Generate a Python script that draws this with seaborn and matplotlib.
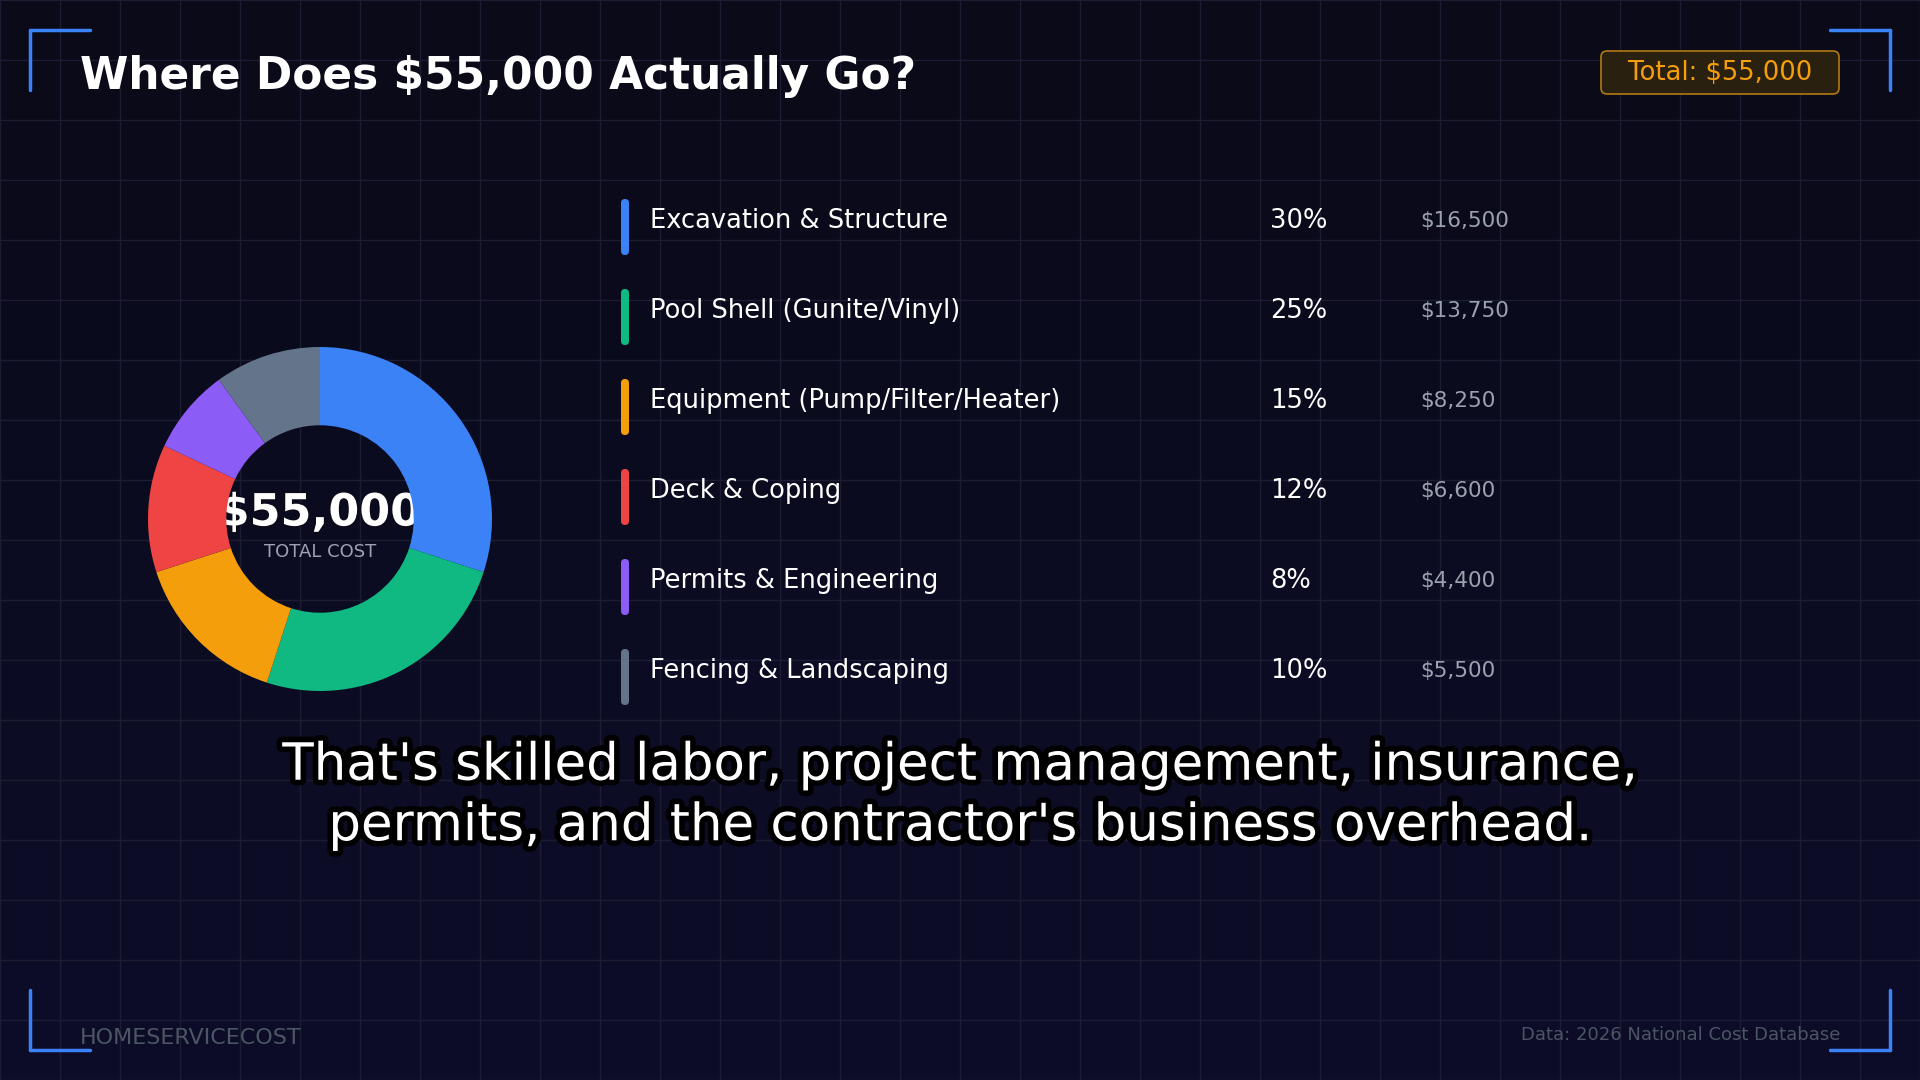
import matplotlib
matplotlib.use("Agg")
import matplotlib.pyplot as plt
import matplotlib.patheffects as pe
from matplotlib.patches import FancyBboxPatch
from matplotlib.colors import LinearSegmentedColormap
import numpy as np
import seaborn as sns

sns.set_theme(style="dark")
plt.rcParams['font.family'] = ['DejaVu Sans']

categories = ["Excavation & Structure", "Pool Shell (Gunite/Vinyl)", "Equipment (Pump/Filter/Heater)",
              "Deck & Coping", "Permits & Engineering", "Fencing & Landscaping"]
percents = [30, 25, 15, 12, 8, 10]
amounts = ["$16,500", "$13,750", "$8,250", "$6,600", "$4,400", "$5,500"]
colors = ["#3b82f6", "#10b981", "#f59e0b", "#ef4444", "#8b5cf6", "#64748b"]

W, H = 1920, 1080
fig = plt.figure(figsize=(19.2, 10.8), dpi=100)
bg = fig.add_axes([0, 0, 1, 1])
bg.set_xlim(0, W); bg.set_ylim(H, 0); bg.axis("off")
grad = np.linspace(0, 1, 256).reshape(-1, 1)
cmap = LinearSegmentedColormap.from_list("bg", ["#0a0a18", "#0d0d2a"])
bg.imshow(grad, extent=[0, W, H, 0], cmap=cmap, aspect="auto", zorder=0)
for x in range(0, W + 1, 60):
    bg.plot([x, x], [0, H], color="#1c1c33", lw=1, zorder=1)
for y in range(0, H + 1, 60):
    bg.plot([0, W], [y, y], color="#1c1c33", lw=1, zorder=1)

bc = "#3b82f6"; L = 60
for (cx0, cy0, dx, dy) in [(30, 30, 1, 1), (1890, 30, -1, 1), (30, 1050, 1, -1), (1890, 1050, -1, -1)]:
    bg.plot([cx0, cx0 + dx * L], [cy0, cy0], color=bc, lw=2.5, zorder=3)
    bg.plot([cx0, cx0], [cy0, cy0 + dy * L], color=bc, lw=2.5, zorder=3)

bg.text(80, 76, "Where Does $55,000 Actually Go?", color="white", fontsize=31.6, fontweight="bold",
        va="center", ha="left", zorder=4)
bg.add_patch(FancyBboxPatch((1601, 51), 238, 43, boxstyle="round,pad=0,rounding_size=6",
                            fc="#2a2010", ec="#b07a12", lw=1.2, zorder=3))
bg.text(1720, 73, "Total: $55,000", color="#f59e0b", fontsize=18.6, ha="center", va="center", zorder=4)

rows_y = [221, 311, 401, 491, 581, 671]
for y, cat, p, a, c in zip(rows_y, categories, percents, amounts, colors):
    bg.add_patch(FancyBboxPatch((621, y - 22), 8, 56, boxstyle="round,pad=0,rounding_size=4",
                                fc=c, ec="none", zorder=3))
    bg.text(650, y, cat, color="white", fontsize=18.5, va="center", ha="left", zorder=4)
    bg.text(1270, y, f"{p}%", color="white", fontsize=18.5, va="center", ha="left", zorder=4)
    bg.text(1420, y, a, color="#9ca3af", fontsize=15.5, va="center", ha="left", zorder=4)

cx, cy, R = 320, 519, 172
dax = fig.add_axes([(cx - R) / W, 1 - (cy + R) / H, 2 * R / W, 2 * R / H])
dax.pie(percents, colors=colors, startangle=90, counterclock=False,
        wedgeprops=dict(width=0.455, edgecolor="none"), radius=1)
dax.set_xlim(-1, 1); dax.set_ylim(-1, 1)
dax.set_aspect("equal"); dax.axis("off")
dax.patch.set_alpha(0)
bg.text(320, 513, "$55,000", color="white", fontsize=32, fontweight="bold", ha="center", va="center", zorder=4,
        path_effects=[pe.withStroke(linewidth=2, foreground="#0a0a18")])
bg.text(320, 552, "TOTAL COST", color="#9ca3af", fontsize=13, ha="center", va="center", zorder=4)

sub = "That's skilled labor, project management, insurance,\npermits, and the contractor's business overhead."
bg.text(960, 796, sub, color="white", fontsize=37, ha="center", va="center", linespacing=1.27, zorder=5,
        path_effects=[pe.withStroke(linewidth=8, foreground="black")])

bg.text(80, 1038, "HOMESERVICECOST", color="#4b5563", fontsize=16, ha="left", va="center", zorder=4)
bg.text(1840, 1035, "Data: 2026 National Cost Database", color="#4b5563", fontsize=13, ha="right",
        va="center", zorder=4)

fig.savefig("out.png", dpi=100)
